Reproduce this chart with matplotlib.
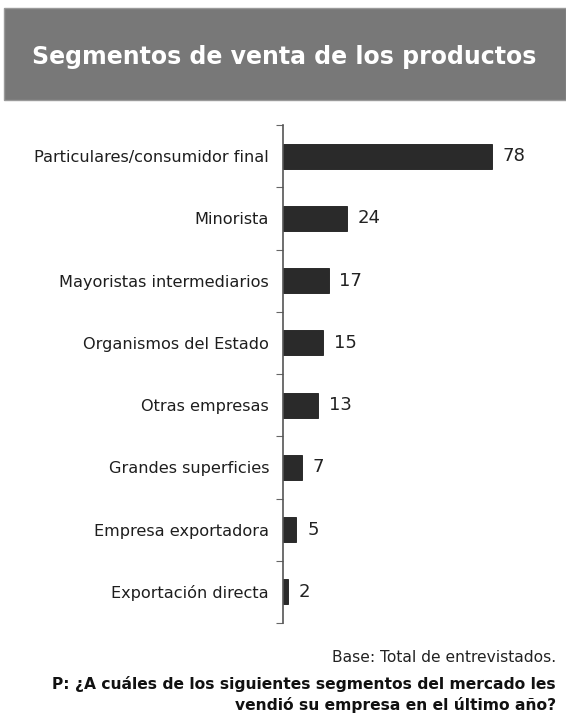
import matplotlib.pyplot as plt
from matplotlib.patches import Rectangle

# segmentos y porcentajes
segmentos = ['Particulares/consumidor final', 'Minorista', 'Mayoristas intermediarios',
             'Organismos del Estado', 'Otras empresas', 'Grandes superficies',
             'Empresa exportadora', 'Exportación directa']
valores = [78, 24, 17, 15, 13, 7, 5, 2]

titulo = 'Segmentos de venta de los productos'
nota_base = 'Base: Total de entrevistados.'
nota_pregunta = ['P: ¿A cuáles de los siguientes segmentos del mercado les',
                 'vendió su empresa en el último año?']

plt.rcParams['font.family'] = ['DejaVu Sans']

W, H = 566, 715
fig = plt.figure(figsize=(W / 100, H / 100), dpi=100)

# banda gris del titulo
fig.patches.append(Rectangle((4 / W, 1 - 100 / H), 562 / W, 92 / H, transform=fig.transFigure,
                             facecolor='#787878', edgecolor='#9a9a9a', linewidth=1))
fig.text(284 / W, 1 - 57 / H, titulo, ha='center', va='center', color='white',
         fontsize=17, fontweight='bold')

# ejes: spine en x=283, de y=125 a y=623
ax = fig.add_axes([283 / W, 1 - 623 / H, (W - 283) / W, 498 / H])
n = len(segmentos)
pos = list(range(n))
ax.barh(pos, valores, height=0.4, color='#2a2a2a', edgecolor='#1a1a1a', linewidth=0.6)
ax.set_ylim(n - 0.5, -0.5)
ax.set_xlim(0, (W - 283) / 2.68)

for p, v in zip(pos, valores):
    ax.text(v + 4.0, p, str(v), va='center', ha='left', fontsize=13, color='#222222')

ax.set_yticks(pos)
ax.set_yticklabels(segmentos, fontsize=11.6, color='#1e1e1e')
ax.tick_params(axis='y', length=0, pad=10)
ax.set_yticks([i - 0.5 for i in range(n + 1)], minor=True)
ax.tick_params(axis='y', which='minor', length=5, width=0.8, color='#666666')
ax.set_xticks([])
for s in ['top', 'right', 'bottom']:
    ax.spines[s].set_visible(False)
ax.spines['left'].set_color('#555555')
ax.spines['left'].set_linewidth(1.2)

# notas al pie
fig.text(556 / W, 1 - 657 / H, nota_base, ha='right', va='center', fontsize=11.2, color='#222222')
fig.text(556 / W, 1 - 684 / H, nota_pregunta[0], ha='right', va='center', fontsize=11.2,
         fontweight='bold', color='#111111')
fig.text(556 / W, 1 - 705 / H, nota_pregunta[1], ha='right', va='center', fontsize=11.2,
         fontweight='bold', color='#111111')

fig.savefig('out.png', dpi=100)
